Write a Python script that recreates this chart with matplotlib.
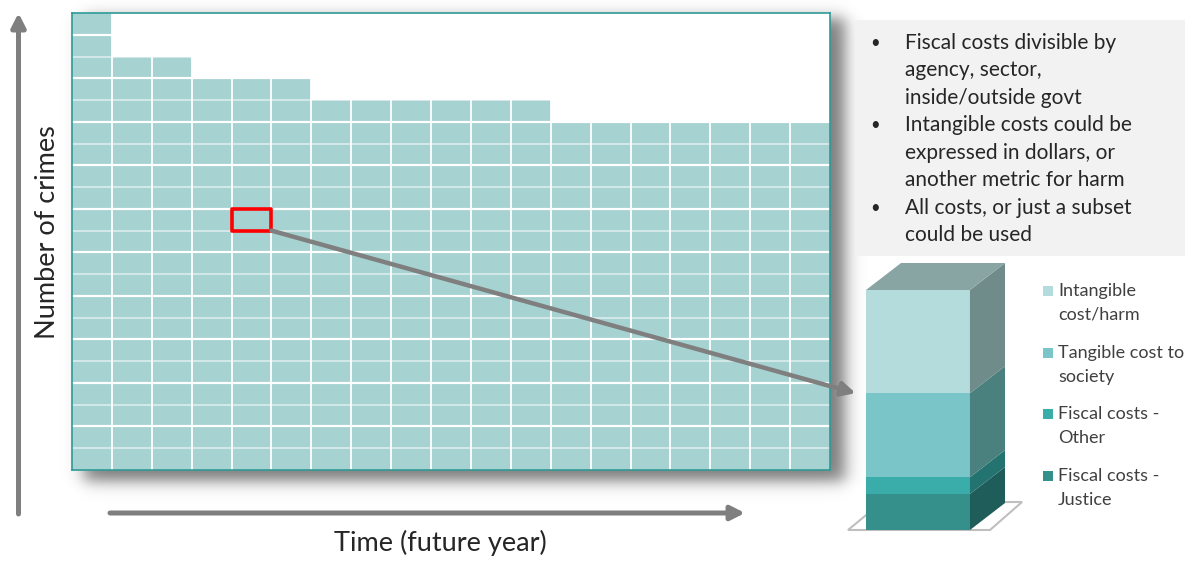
import numpy as np
import matplotlib
matplotlib.use("Agg")
import matplotlib.pyplot as plt
from matplotlib.patches import Rectangle, Polygon, FancyArrowPatch, ConnectionPatch

# Crimes per future year (one column per year, one cell per crime)
years = list(range(19))
crimes = [21, 19, 19, 18, 18, 18, 17, 17, 17, 17, 17, 17, 16, 16, 16, 16, 16, 16, 16]
highlight_year = 4
highlight_crime = 11

# Cost breakdown of a single crime (percent of total), bottom to top
cost_labels = ["Fiscal costs -\nJustice", "Fiscal costs -\nOther",
               "Tangible cost to\nsociety", "Intangible\ncost/harm"]
cost_shares = [15, 7, 35, 43]
front_colors = ["#35908C", "#3AADAA", "#7AC5C8", "#B5DCDC"]
side_colors = ["#1F5D5B", "#237370", "#4A807D", "#708C8A"]
top_color = "#89A5A3"

notes = ["Fiscal costs divisible by\nagency, sector,\ninside/outside govt",
         "Intangible costs could be\nexpressed in dollars, or\nanother metric for harm",
         "All costs, or just a subset\ncould be used"]

FONT = ["Lato", "DejaVu Sans"]
plt.rcParams["font.family"] = FONT

W, H = 1200, 570
fig = plt.figure(figsize=(12, 5.7), dpi=100)
fig.patch.set_facecolor("white")

bg = fig.add_axes([0, 0, 1, 1])
bg.set_xlim(0, W)
bg.set_ylim(H, 0)
bg.axis("off")


def px_axes(x0, y0, x1, y1):
    """Axes placed by pixel box (origin top-left)."""
    return fig.add_axes([x0 / W, 1 - y1 / H, (x1 - x0) / W, (y1 - y0) / H])


# soft drop shadow under the crime grid
sx0, sx1, sy0, sy1 = 40, 900, 0, 540
xs = np.arange(sx0, sx1) + 0.5
ys = np.arange(sy0, sy1) + 0.5


def soft(t, a, b, s):
    return 0.5 * (np.tanh((t - a) / s) - np.tanh((t - b) / s))


alpha = 0.52 * np.outer(soft(ys, 18, 481, 9), soft(xs, 84, 845, 10))
rgba = np.zeros((len(ys), len(xs), 4))
rgba[..., 3] = alpha
bg.imshow(rgba, extent=(sx0, sx1, sy1, sy0), interpolation="bilinear", aspect="auto")
bg.set_xlim(0, W)
bg.set_ylim(H, 0)

# axis arrows
arrow_grey = "#7F7F7F"
head = "-|>,head_length=0.75,head_width=0.38"
bg.add_patch(FancyArrowPatch((18.5, 514), (18.5, 13), arrowstyle=head,
                             mutation_scale=11, lw=3.6, color=arrow_grey, shrinkA=0, shrinkB=0))
bg.add_patch(FancyArrowPatch((110, 513), (745, 513), arrowstyle=head,
                             mutation_scale=11, lw=3.6, color=arrow_grey, shrinkA=0, shrinkB=0))
bg.text(48, 232, "Number of crimes", rotation=90, ha="center", va="center",
        fontsize=19.5, color="#262626")
bg.text(440, 543, "Time (future year)", ha="center", va="center",
        fontsize=19.5, color="#262626")

# notes box
bg.add_patch(Rectangle((855, 20), 330, 236, fc="#F2F2F2", ec="none"))
line_no = 0
for note in notes:
    bg.text(870, 43 + 27.45 * line_no, "\u2022", ha="left", va="center",
            fontsize=12, color="#262626")
    for line in note.split("\n"):
        bg.text(905, 43 + 27.45 * line_no, line, ha="left", va="center",
                fontsize=15, color="#262626")
        line_no += 1

# floor under the cost bar
bg.add_patch(Polygon([(848, 530), (990, 530), (1022, 502), (882, 502)], closed=True,
                     fc="white", ec="#BFBFBF", lw=1.5))

# legend for cost categories
for i, (lab, col) in enumerate(zip(cost_labels[::-1], front_colors[::-1])):
    y = 291 + 61.7 * i
    bg.add_patch(Rectangle((1043, y - 5), 10, 10, fc=col, ec="none"))
    for j, line in enumerate(lab.split("\n")):
        bg.text(1058, y + 24 * j, line, ha="left", va="center", fontsize=13, color="#404040")

# crime grid
gx = px_axes(72, 13, 830, 470)
cell = "#A6D2D2"
gx.bar(years, crimes, width=1, align="edge", color=cell, zorder=1)
gx.set_xlim(0, len(years))
gx.set_ylim(0, max(crimes))
for x in range(1, len(years)):
    gx.axvline(x, color="white", lw=1.3, zorder=2)
for y in range(1, max(crimes)):
    if y % 2 == 0:
        gx.axhline(y, color="white", lw=1.6, zorder=2)
    else:
        gx.axhline(y, color="white", lw=1.3, alpha=0.55, zorder=2)
gx.set_xticks([])
gx.set_yticks([])
for sp in gx.spines.values():
    sp.set_color("#2E9A96")
    sp.set_linewidth(1.2)
gx.add_patch(Rectangle((highlight_year, highlight_crime), 1, 1, fill=False,
                       ec="red", lw=2.6, zorder=4, joinstyle="round"))

# 3D stacked cost bar
bx = px_axes(866, 263, 1005, 530)
depth_x, depth_y = 0.337, 11.25
total = sum(cost_shares)
bx.set_xlim(0, 1 + depth_x)
bx.set_ylim(0, total + depth_y)
bx.axis("off")
bottoms = np.concatenate([[0], np.cumsum(cost_shares)[:-1]])
bx.bar([0] * len(cost_shares), cost_shares, bottom=bottoms, width=1, align="edge",
       color=front_colors, zorder=2)
for b, h, c in zip(bottoms, cost_shares, side_colors):
    bx.add_patch(Polygon([(1, b), (1, b + h), (1 + depth_x, b + h + depth_y), (1 + depth_x, b + depth_y)],
                         closed=True, fc=c, ec="none", zorder=2))
bx.add_patch(Polygon([(0, total), (1, total), (1 + depth_x, total + depth_y), (depth_x, total + depth_y)],
                     closed=True, fc=top_color, ec="none", zorder=2))

# pointer from the highlighted crime to its cost breakdown
con = ConnectionPatch(xyA=(highlight_year + 1, highlight_crime), coordsA=gx.transData,
                      xyB=(-0.1, bottoms[2] + cost_shares[2]), coordsB=bx.transData,
                      arrowstyle=head, mutation_scale=11,
                      color=arrow_grey, lw=3.2, shrinkA=0, shrinkB=0)
fig.add_artist(con)

fig.savefig("out.png", dpi=100, facecolor="white")
